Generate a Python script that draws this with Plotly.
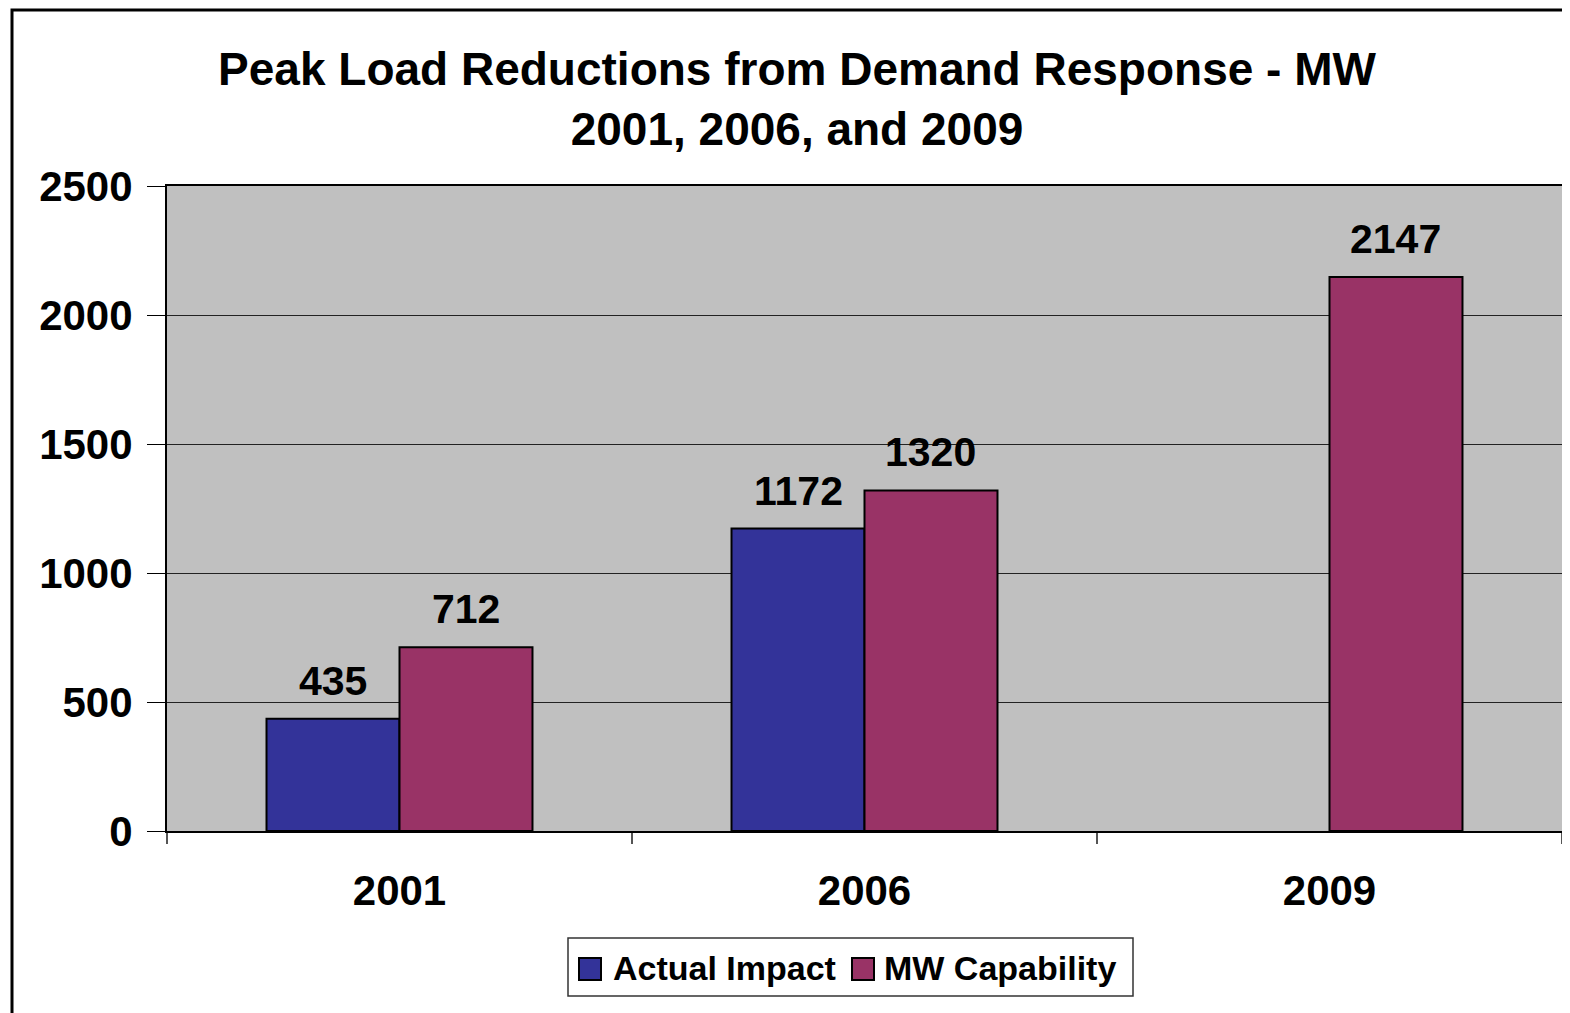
import plotly.graph_objects as go

years = ["2001", "2006", "2009"]
actual_impact = [435, 1172, None]
mw_capability = [712, 1320, 2147]
y_ticks = [0, 500, 1000, 1500, 2000, 2500]
series_names = ["Actual Impact", "MW Capability"]
series_colors = ["#333399", "#993366"]

# page body has a small margin; work in screen coordinates and convert
OFF = 7
W, H = 1570, 1013
SL, SR, ST, SB = 166, 1561, 185, 830  # plot area in screen px
L = SL - OFF
T = ST - OFF
R = W - (SR - OFF)
B = H - (SB - OFF)
pw, ph = SR - SL, SB - ST

def px(x):
    return (x - SL) / pw

def py(y):
    return (SB - y) / ph

FONT = "Liberation Sans, Arial, sans-serif"
BAR_W = 0.286  # fraction of category width per bar
cat_px = pw / len(years)

fig = go.Figure()
annotations = []
for i, (name, vals, col) in enumerate(zip(series_names, [actual_impact, mw_capability], series_colors)):
    fig.add_trace(go.Bar(
        x=years, y=vals, name=name, showlegend=False,
        marker=dict(color=col, line=dict(color="black", width=2)),
    ))
    shift = (i - 0.5) * BAR_W * cat_px
    for j, v in enumerate(vals):
        if v is None:
            continue
        annotations.append(dict(
            text=f"<b>{v}</b>", x=j, y=v, xref="x", yref="y",
            xanchor="center", yanchor="bottom", xshift=shift, yshift=13,
            showarrow=False, font=dict(family=FONT, size=41, color="black"),
        ))

shapes = [dict(
    type="rect", xref="paper", yref="paper",
    x0=px(11), x1=px(1620), y0=py(1060), y1=py(9),
    line=dict(color="black", width=3), fillcolor="rgba(0,0,0,0)", layer="below",
)]
# legend box
shapes.append(dict(
    type="rect", xref="paper", yref="paper",
    x0=px(567), x1=px(1132), y0=py(995), y1=py(937),
    line=dict(color="#333333", width=1.5), fillcolor="white", layer="below",
))
legend_items = [(578, 612), (851, 883)]
for (sx, tx), name, col in zip(legend_items, series_names, series_colors):
    shapes.append(dict(
        type="rect", xref="paper", yref="paper",
        x0=px(sx), x1=px(sx + 22), y0=py(979), y1=py(957),
        line=dict(color="black", width=2), fillcolor=col,
    ))
    annotations.append(dict(
        text=f"<b>{name}</b>", xref="paper", yref="paper",
        x=px(tx - 2), y=py(967), xanchor="left", yanchor="middle",
        showarrow=False, font=dict(family=FONT, size=34, color="black"),
    ))

fig.update_layout(
    width=W, height=H,
    margin=dict(l=L, r=R, t=T, b=B, autoexpand=False),
    paper_bgcolor="white", plot_bgcolor="#C0C0C0",
    barmode="group", bargap=1 - 2 * BAR_W, bargroupgap=0,
    font=dict(family=FONT, color="black"),
    title=dict(
        text="<b>Peak Load Reductions from Demand Response - MW<br>2001, 2006, and 2009</b>",
        x=(796 - OFF) / W, xref="container", xanchor="center",
        y=1 - 77 / H, yref="container", yanchor="middle",
        font=dict(family=FONT, size=46, color="black"),
    ),
    xaxis=dict(
        type="category", categoryorder="array", categoryarray=years,
        range=[-0.5, len(years) - 0.5], autorange=False,
        showline=True, linecolor="black", linewidth=2, mirror=True,
        ticks="outside", tickson="boundaries", ticklen=11, tickcolor="#555555", tickwidth=2,
        tickfont=dict(family=FONT, size=42, color="black", weight="bold"),
        ticklabelstandoff=22, tickangle=0,
        showgrid=False,
    ),
    yaxis=dict(
        range=[0, 2500], tickvals=y_ticks, showline=True, linecolor="black", linewidth=2,
        mirror=True, ticks="outside", ticklen=18, tickcolor="black", tickwidth=1,
        tickfont=dict(family=FONT, size=42, color="black", weight="bold"),
        ticklabelstandoff=6,
        showgrid=True, gridcolor="#222222", gridwidth=1, zeroline=False,
    ),
    shapes=shapes,
    annotations=annotations,
)

fig.write_html("out.html")
